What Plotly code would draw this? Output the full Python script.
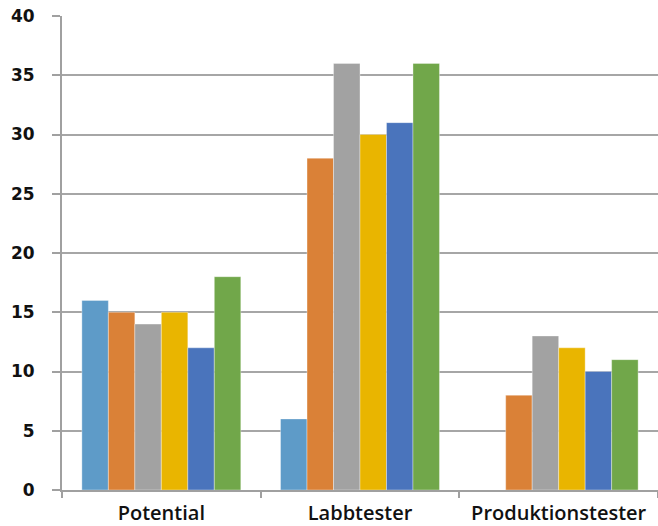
import plotly.graph_objects as go

categories = ["Potential", "Labbtester", "Produktionstester"]
series_names = ["Serie 1", "Serie 2", "Serie 3", "Serie 4", "Serie 5", "Serie 6"]
s1 = [16, 6, None]
s2 = [15, 28, 8]
s3 = [14, 36, 13]
s4 = [15, 30, 12]
s5 = [12, 31, 10]
s6 = [18, 36, 11]
series_values = [s1, s2, s3, s4, s5, s6]
colors = ["#5E9BC8", "#DA8137", "#A2A2A2", "#E9B500", "#4A74BC", "#71A74A"]
y_ticks = [0, 5, 10, 15, 20, 25, 30, 35, 40]

fig = go.Figure()
for name, vals, col in zip(series_names, series_values, colors):
    fig.add_trace(go.Bar(
        x=categories, y=vals, name=name,
        marker=dict(color=col, line=dict(color="rgba(255,255,255,0.35)", width=1)),
    ))

fig.update_layout(
    width=658, height=526,
    margin=dict(l=62, r=0, t=16, b=36, autoexpand=False),
    paper_bgcolor="white", plot_bgcolor="white",
    barmode="group", bargap=0.2, bargroupgap=0,
    showlegend=False,
    font=dict(family="DejaVu Sans", color="#111111"),
)
fig.update_xaxes(
    type="category", tickson="boundaries", ticks="outside", ticklen=6,
    tickcolor="#A0A0A0", tickwidth=2,
    showline=True, linecolor="#A0A0A0", linewidth=2,
    showgrid=False, automargin=False,
    tickfont=dict(family="Open Sans", size=20, color="#111111", weight=600),
    ticklabelstandoff=4,
)
fig.update_yaxes(
    range=[0, 40], tickvals=y_ticks, ticks="outside", ticklen=8,
    tickcolor="#A0A0A0", tickwidth=2,
    showline=True, linecolor="#A0A0A0", linewidth=2,
    showgrid=True, gridcolor="#A6A6A6", gridwidth=1.5,
    zeroline=False, automargin=False,
    tickfont=dict(family="DejaVu Sans", size=17, color="#111111", weight="bold"),
    ticklabelstandoff=14,
)
fig.write_html(
    "out.html",
    config={"displayModeBar": False},
    post_script="document.body.style.margin='0';document.body.style.overflow='hidden';",
)
